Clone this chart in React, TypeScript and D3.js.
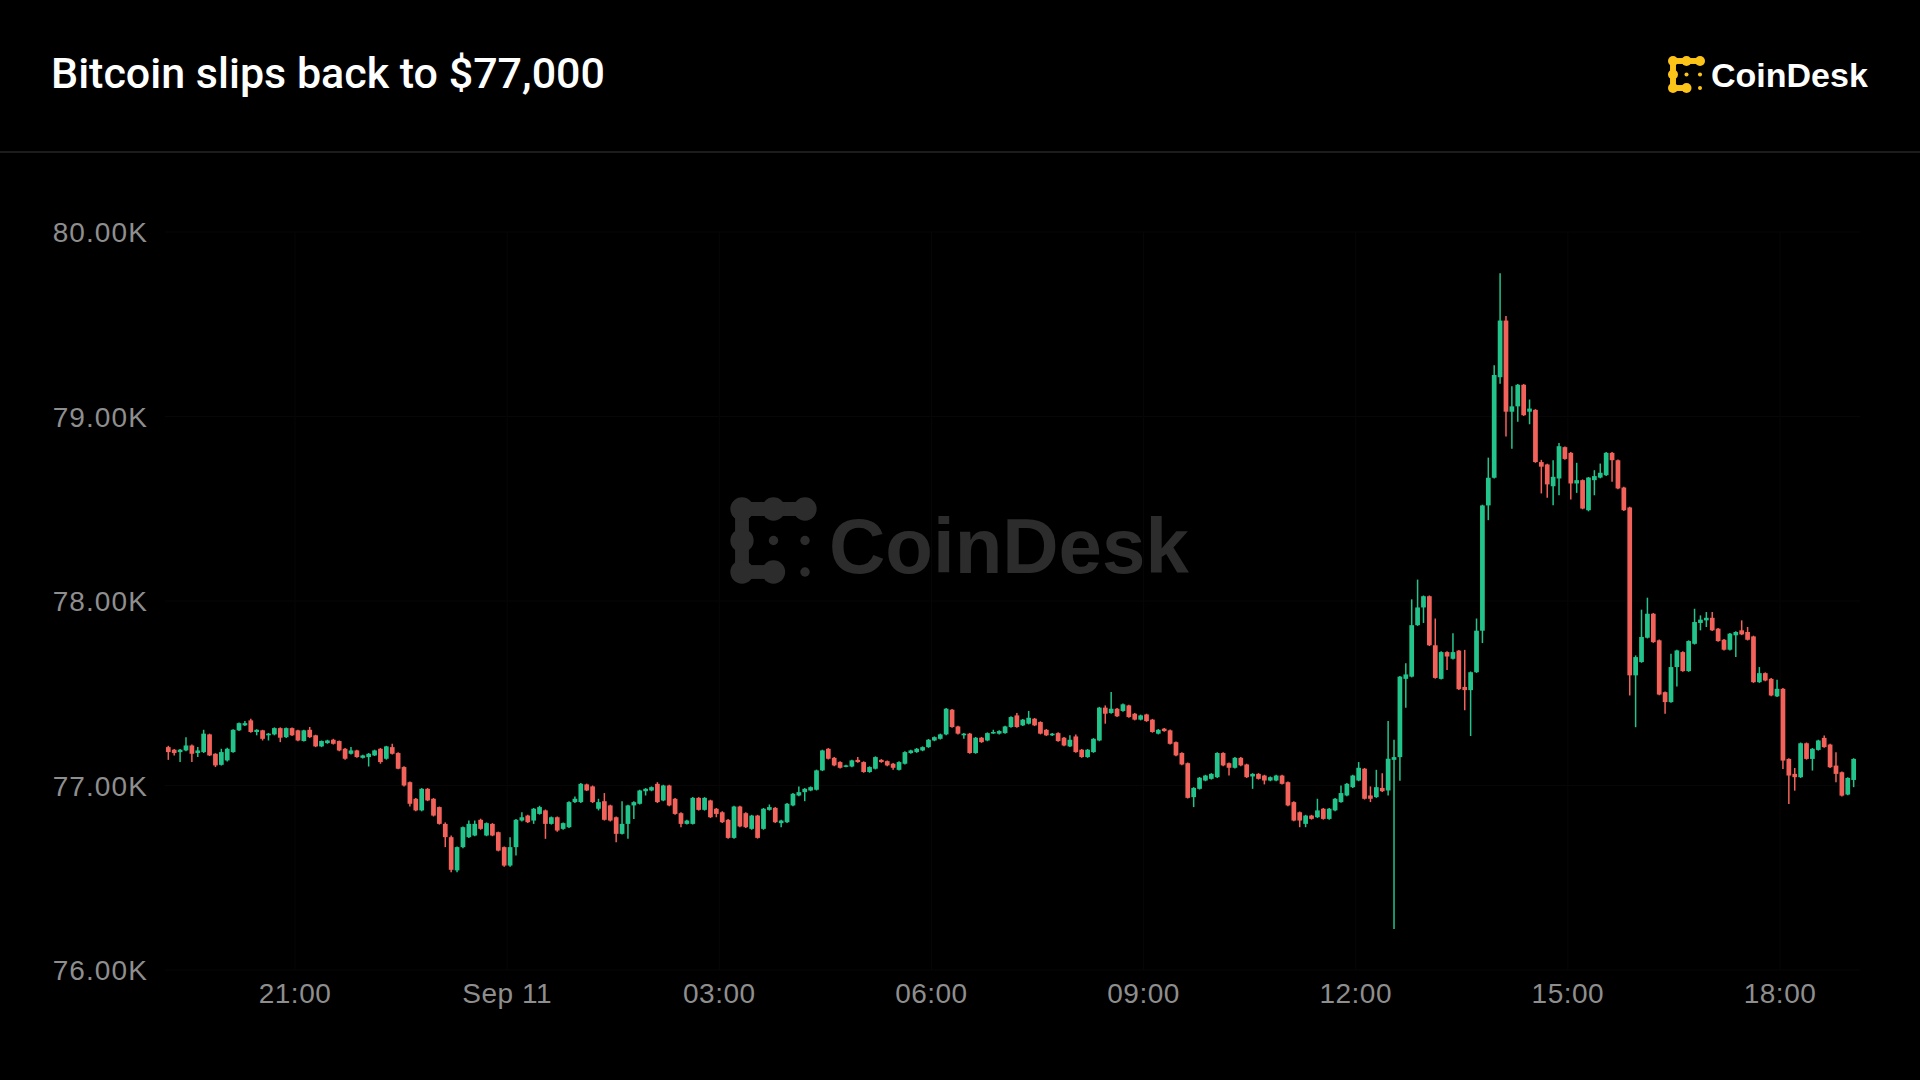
import React from "react";
import * as d3 from "d3";

const TITLE = "Bitcoin slips back to $77,000";
const BRAND = "CoinDesk";

// 5-minute candles, first candle opens 19:10 (Sep 10), [open, high, low, close]
const START_UTC = Date.UTC(2024, 8, 10, 19, 10);
const STEP_MIN = 5;

const ohlc: [number, number, number, number][] = [
  [77208,77215,77139,77181],[77194,77198,77163,77176],[77181,77198,77127,77194],[77190,77262,77185,77217],
  [77217,77222,77127,77172],[77176,77208,77154,77190],[77181,77302,77176,77281],[77277,77281,77160,77163],
  [77172,77175,77100,77109],[77112,77199,77108,77181],[77136,77205,77130,77199],[77181,77305,77178,77302],
  [77299,77342,77295,77338],[77326,77349,77322,77338],[77353,77362,77286,77290],[77290,77305,77272,77302],
  [77299,77302,77244,77253],[77272,77285,77244,77281],[77277,77315,77272,77311],[77311,77315,77235,77259],
  [77262,77315,77258,77311],[77311,77315,77268,77272],[77299,77302,77240,77244],[77241,77302,77238,77299],
  [77302,77317,77258,77262],[77272,77275,77208,77212],[77212,77244,77208,77241],[77230,77248,77226,77244],
  [77248,77253,77222,77226],[77241,77244,77186,77190],[77199,77203,77139,77145],[77172,77208,77168,77190],
  [77190,77194,77150,77154],[77150,77167,77146,77163],[77154,77176,77103,77172],[77163,77194,77160,77190],
  [77199,77203,77118,77127],[77145,77215,77140,77212],[77208,77226,77168,77172],[77176,77180,77088,77091],
  [77100,77104,76995,77000],[77018,77022,76886,76901],[76928,76932,76860,76865],[76865,76986,76860,76982],
  [76982,76986,76915,76919],[76928,76932,76832,76837],[76883,76886,76788,76792],[76792,76800,76666,76720],
  [76720,76729,76530,76543],[76540,76670,76530,76666],[76666,76778,76660,76774],[76720,76810,76715,76792],
  [76729,76810,76725,76792],[76814,76820,76760,76765],[76729,76800,76725,76796],[76792,76796,76725,76729],
  [76747,76750,76643,76647],[76666,76670,76560,76566],[76566,76720,76560,76666],[76666,76818,76620,76814],
  [76810,76855,76805,76828],[76837,76841,76797,76801],[76810,76878,76792,76874],[76846,76890,76842,76883],
  [76865,76870,76711,76792],[76792,76832,76788,76828],[76828,76832,76750,76756],[76765,76800,76760,76796],
  [76774,76914,76770,76910],[76910,76940,76905,76928],[76910,77013,76905,77009],[77006,77010,76970,76973],
  [76995,77000,76905,76910],[76874,76928,76865,76910],[76915,76959,76810,76814],[76892,76896,76805,76810],
  [76828,76832,76693,76738],[76738,76915,76734,76792],[76792,76896,76711,76892],[76892,76914,76819,76910],
  [76901,76977,76897,76973],[76969,76986,76946,76982],[76973,76995,76969,76991],[77009,77018,76905,76910],
  [76919,77004,76915,77000],[77000,77004,76888,76892],[76928,76932,76842,76846],[76850,76855,76774,76792],
  [76792,76814,76788,76810],[76792,76937,76788,76933],[76933,76937,76864,76868],[76868,76937,76864,76933],
  [76919,76923,76824,76828],[76874,76878,76828,76846],[76855,76860,76797,76801],[76814,76818,76712,76716],
  [76716,76890,76712,76886],[76886,76890,76774,76778],[76850,76855,76770,76774],[76765,76841,76760,76837],
  [76837,76841,76712,76716],[76765,76878,76760,76874],[76868,76897,76864,76883],[76879,76883,76797,76801],
  [76796,76814,76774,76810],[76801,76905,76797,76901],[76892,76960,76888,76955],[76946,76995,76942,76964],
  [76964,76986,76915,76982],[76973,76995,76969,76991],[76977,77086,76973,77082],[77082,77194,77078,77190],
  [77199,77203,77141,77145],[77150,77154,77105,77109],[77127,77131,77092,77096],[77103,77113,77099,77109],
  [77103,77140,77099,77136],[77139,77154,77123,77127],[77127,77131,77069,77073],[77073,77104,77069,77100],
  [77091,77158,77087,77154],[77139,77143,77123,77127],[77132,77136,77105,77109],[77118,77122,77085,77096],
  [77085,77131,77081,77127],[77118,77185,77114,77181],[77176,77194,77172,77190],[77181,77203,77177,77199],
  [77190,77212,77186,77208],[77208,77252,77204,77248],[77244,77266,77240,77262],[77253,77281,77249,77277],
  [77277,77420,77273,77416],[77411,77415,77313,77317],[77320,77324,77277,77281],[77272,77285,77253,77281],
  [77281,77285,77172,77176],[77176,77263,77172,77259],[77259,77263,77231,77235],[77244,77288,77240,77284],
  [77284,77302,77280,77290],[77281,77299,77277,77295],[77284,77324,77280,77320],[77317,77375,77313,77371],
  [77380,77393,77313,77317],[77326,77361,77322,77357],[77335,77404,77331,77367],[77362,77366,77322,77326],
  [77344,77348,77277,77281],[77302,77306,77268,77272],[77272,77285,77268,77281],[77284,77288,77237,77241],
  [77259,77263,77213,77217],[77212,77272,77208,77248],[77266,77277,77177,77181],[77194,77198,77150,77154],
  [77154,77198,77150,77194],[77181,77257,77177,77253],[77244,77426,77240,77422],[77422,77434,77335,77389],
  [77393,77507,77389,77416],[77416,77420,77371,77375],[77404,77444,77400,77440],[77434,77438,77367,77371],
  [77389,77393,77353,77357],[77357,77384,77353,77380],[77385,77389,77345,77349],[77357,77361,77286,77290],
  [77281,77306,77277,77302],[77308,77312,77291,77295],[77299,77303,77222,77226],[77235,77239,77159,77163],
  [77176,77180,77110,77114],[77121,77125,76929,76933],[76937,76991,76883,76987],[76982,77046,76978,77042],
  [77027,77058,77023,77054],[77036,77067,77032,77063],[77045,77180,77041,77176],[77176,77180,77105,77109],
  [77121,77125,77054,77096],[77096,77154,77092,77150],[77150,77154,77105,77109],[77114,77118,77041,77045],
  [77049,77067,76982,77063],[77063,77067,77032,77036],[77054,77058,77006,77027],[77027,77049,77023,77045],
  [77027,77058,77023,77054],[77054,77058,77005,77009],[77018,77022,76888,76892],[76910,76914,76806,76810],
  [76855,76859,76774,76810],[76792,76841,76774,76837],[76837,76841,76815,76819],[76828,76928,76824,76865],
  [76874,76878,76815,76819],[76819,76878,76815,76874],[76865,76932,76861,76928],[76910,77000,76906,76959],
  [76946,77013,76942,77009],[76991,77058,76987,77054],[77027,77127,77023,77096],[77091,77095,76924,76928],
  [76946,76995,76910,76928],[76937,77085,76933,76991],[76987,77067,76965,76969],[76973,77349,76946,77145],
  [77139,77248,76222,77154],[77154,77594,77026,77590],[77578,77663,77421,77602],[77590,78009,77586,77869],
  [77869,78116,77865,77965],[77965,78030,77881,78026],[78026,78030,77756,77760],[77760,77905,77579,77583],
  [77578,77727,77574,77723],[77723,77727,77626,77699],[77687,77825,77683,77723],[77731,77735,77518,77522],
  [77534,77735,77408,77517],[77517,77618,77268,77614],[77614,77905,77610,77839],[77839,78522,77772,78518],
  [78518,78777,78438,78668],[78668,79278,78664,79225],[79213,79777,79177,79520],[79520,79545,78891,79026],
  [79026,79164,78825,79055],[79055,79176,78971,79172],[79172,79176,79003,79007],[79026,79092,78958,79043],
  [79036,79040,78749,78753],[78753,78765,78583,78728],[78740,78744,78559,78632],[78622,78763,78519,78673],
  [78664,78857,78573,78839],[78834,78838,78765,78770],[78803,78807,78550,78637],[78637,78749,78586,78655],
  [78655,78659,78497,78501],[78492,78672,78486,78669],[78655,78709,78573,78677],[78669,78745,78665,78695],
  [78682,78807,78678,78803],[78803,78807,78646,78763],[78763,78767,78606,78610],[78615,78619,78488,78492],
  [78507,78511,77488,77597],[77597,77705,77316,77696],[77669,77953,77665,77805],[77801,78018,77797,77931],
  [77931,77935,77773,77777],[77787,77791,77489,77493],[77506,77510,77389,77452],[77452,77714,77448,77642],
  [77642,77736,77537,77732],[77723,77727,77616,77620],[77620,77787,77616,77783],[77768,77958,77764,77886],
  [77881,77922,77841,77899],[77895,77940,77859,77909],[77909,77940,77837,77841],[77850,77854,77779,77783],
  [77790,77794,77732,77736],[77736,77827,77732,77823],[77814,77836,77696,77832],[77841,77895,77815,77819],
  [77832,77859,77786,77790],[77808,77812,77556,77560],[77560,77642,77556,77609],[77609,77613,77565,77569],
  [77578,77582,77484,77488],[77483,77573,77479,77524],[77524,77528,77090,77135],[77144,77148,76900,77054],
  [77063,77095,76972,77045],[77045,77233,77041,77229],[77229,77233,77140,77144],[77144,77203,77081,77199],
  [77193,77248,77189,77244],[77258,77271,77204,77208],[77222,77226,77095,77099],[77108,77180,77018,77063],
  [77072,77076,76941,76945],[76951,77045,76947,77041],[77030,77148,76991,77144],
];

const yTicks = [76000, 77000, 78000, 79000, 80000];
const xTickTimes = [
  Date.UTC(2024, 8, 10, 21), Date.UTC(2024, 8, 11, 0), Date.UTC(2024, 8, 11, 3), Date.UTC(2024, 8, 11, 6),
  Date.UTC(2024, 8, 11, 9), Date.UTC(2024, 8, 11, 12), Date.UTC(2024, 8, 11, 15), Date.UTC(2024, 8, 11, 18),
];
const xTickLabels = ["21:00", "Sep 11", "03:00", "06:00", "09:00", "12:00", "15:00", "18:00"];

const UP = "#22c48c";
const DOWN = "#f2625a";
const AXIS_FONT = "'Liberation Sans', Arial, Helvetica, sans-serif";

function Logo({ x, y, s, fill }: { x: number; y: number; s: number; fill: string }) {
  // 3x3 grid logo: bracket of blobs + three dots
  const r = s * 0.37;
  const neck = s * 0.44;
  const p = (i: number, j: number) => [x + i * s, y + j * s];
  const bracket = [[0, 0], [1, 0], [2, 0], [0, 1], [0, 2], [1, 2]];
  const links = [[[0, 0], [2, 0]], [[0, 0], [0, 2]], [[0, 2], [1, 2]]];
  const dots = [[1, 1], [2, 1], [2, 2]];
  return (
    <g fill={fill} stroke="none">
      {links.map(([a, b], k) => {
        const [x1, y1] = p(a[0], a[1]);
        const [x2, y2] = p(b[0], b[1]);
        return (
          <line key={"l" + k} x1={x1} y1={y1} x2={x2} y2={y2} stroke={fill} strokeWidth={neck} />
        );
      })}
      {bracket.map(([i, j], k) => {
        const [cx, cy] = p(i, j);
        return <circle key={"b" + k} cx={cx} cy={cy} r={r} />;
      })}
      {dots.map(([i, j], k) => {
        const [cx, cy] = p(i, j);
        return <circle key={"d" + k} cx={cx} cy={cy} r={s * 0.15} />;
      })}
    </g>
  );
}

export default function App() {
  const W = 1920;
  const H = 1080;
  const x = d3
    .scaleUtc()
    .domain([new Date(xTickTimes[0]), new Date(xTickTimes[xTickTimes.length - 1])])
    .range([295, 1780]);
  const y = d3.scaleLinear().domain([76000, 80000]).range([970, 232]);
  const stepMs = STEP_MIN * 60 * 1000;
  const bodyW = (x(new Date(START_UTC + stepMs)) - x(new Date(START_UTC))) * 0.8;
  const fmtY = (v: number) => d3.format(".2f")(v / 1000) + "K";

  return (
    <svg
      width={W}
      height={H}
      viewBox={`0 0 ${W} ${H}`}
      style={{ position: "fixed", left: 0, top: 0, background: "#000", display: "block" }}
    >
      <rect x={0} y={0} width={W} height={H} fill="#000" />
      {/* header */}
      <text
        x={51}
        y={88}
        fill="#ffffff"
        fontFamily="Roboto, 'Liberation Sans', Arial, sans-serif"
        fontWeight={500}
        fontSize={43}
      >
        {TITLE}
      </text>
      <Logo x={1673} y={61} s={13.5} fill="#fcc419" />
      <text
        x={1711}
        y={87}
        fill="#ffffff"
        fontFamily="'Liberation Sans', Arial, sans-serif"
        fontWeight={700}
        fontSize={34}
      >
        {BRAND}
      </text>
      <line x1={0} x2={W} y1={152} y2={152} stroke="#1c1c1c" strokeWidth={2} />

      {/* faint grid */}
      <g stroke="#070707" strokeWidth={1}>
        {yTicks.map((t) => (
          <line key={"gy" + t} x1={165} x2={1860} y1={y(t)} y2={y(t)} />
        ))}
        {xTickTimes.map((t) => (
          <line key={"gx" + t} x1={x(new Date(t))} x2={x(new Date(t))} y1={232} y2={970} />
        ))}
      </g>

      {/* watermark */}
      <Logo x={742} y={509} s={31.5} fill="#2c2c2c" />
      <text
        x={829}
        y={573}
        fill="#2c2c2c"
        fontFamily="'Liberation Sans', Arial, sans-serif"
        fontWeight={700}
        fontSize={78}
      >
        {BRAND}
      </text>

      {/* y axis labels */}
      <g fontFamily={AXIS_FONT} fontSize={28} fill="#8e8e8e" textAnchor="end" letterSpacing={1.1}>
        {yTicks.map((t) => (
          <text key={"yl" + t} x={148} y={y(t)} dy="0.36em">
            {fmtY(t)}
          </text>
        ))}
      </g>

      {/* x axis labels */}
      <g fontFamily={AXIS_FONT} fontSize={28} fill="#8e8e8e" textAnchor="middle" letterSpacing={0.5}>
        {xTickTimes.map((t, i) => (
          <text key={"xl" + t} x={x(new Date(t))} y={1003}>
            {xTickLabels[i]}
          </text>
        ))}
      </g>

      {/* candles */}
      <g>
        {ohlc.map(([o, h, l, c], i) => {
          const t = new Date(START_UTC + i * stepMs + stepMs / 2);
          const cx = x(t);
          const up = c >= o;
          const col = up ? UP : DOWN;
          const top = y(Math.max(o, c));
          const bot = y(Math.min(o, c));
          return (
            <g key={i}>
              <line x1={cx} x2={cx} y1={y(h)} y2={y(l)} stroke={col} strokeWidth={1.5} />
              <rect
                x={cx - bodyW / 2}
                y={top}
                width={bodyW}
                height={Math.max(1.5, bot - top)}
                fill={col}
              />
            </g>
          );
        })}
      </g>
    </svg>
  );
}
